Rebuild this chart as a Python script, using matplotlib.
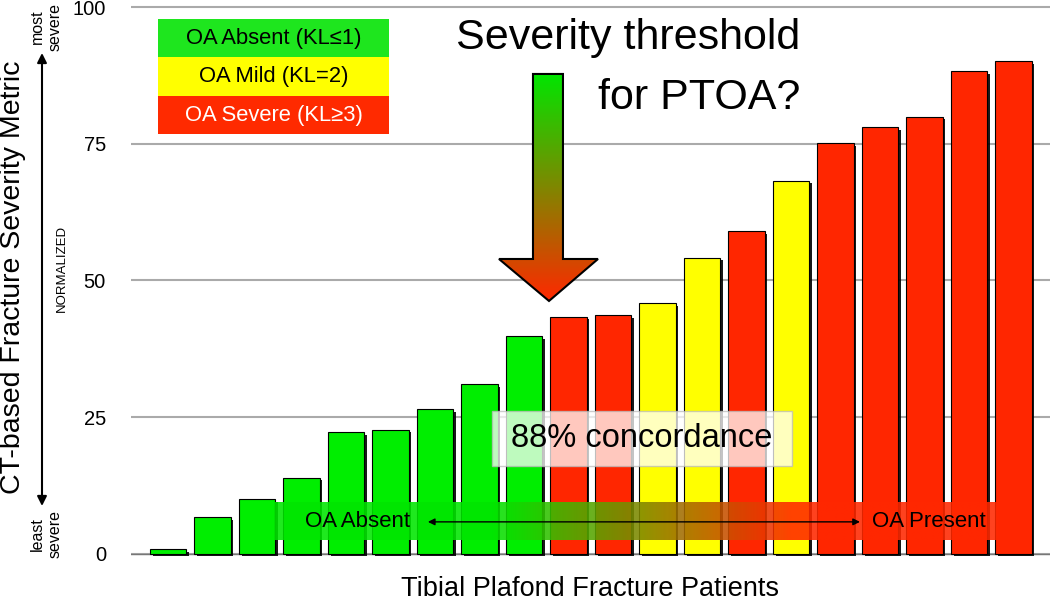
import numpy as np
import matplotlib.pyplot as plt
import matplotlib.patheffects as pe
from matplotlib.patches import Polygon, Rectangle
from matplotlib.colors import to_rgb

plt.rcParams['font.family'] = ['Liberation Sans', 'DejaVu Sans']

# severity metric per patient (sorted), and the OA grade of each one
values = [0.8, 6.7, 10.0, 13.9, 22.2, 22.7, 26.5, 31.0, 39.8, 43.4,
          43.7, 45.9, 54.2, 59.1, 68.3, 75.1, 78.1, 80.0, 88.4, 90.2]
grades = ['absent'] * 9 + ['severe', 'severe', 'mild', 'mild', 'severe',
                           'mild'] + ['severe'] * 5
yticks = [0, 25, 50, 75, 100]
legend_labels = ['OA Absent (KL≤1)', 'OA Mild (KL=2)', 'OA Severe (KL≥3)']
legend_grades = ['absent', 'mild', 'severe']

bar_colors = {'absent': '#00ee00', 'mild': '#ffff00', 'severe': '#ff2600'}
legend_colors = {'absent': '#1ee61e', 'mild': '#ffff00', 'severe': '#ff2a00'}
legend_text = {'absent': 'black', 'mild': 'black', 'severe': 'white'}
GREEN = np.array(to_rgb('#00e600'))
RED = np.array(to_rgb('#ff2800'))

fig = plt.figure(figsize=(10.5, 6.02), dpi=100)
ax = fig.add_axes([131 / 1050, 43 / 602, 919 / 1050, 557 / 602])

x = np.arange(len(values))
shadow = [pe.SimplePatchShadow(offset=(2, -2), shadow_rgbFace='black', alpha=0.9),
          pe.Normal()]
ax.bar(x, values, width=0.81, color=[bar_colors[g] for g in grades],
       edgecolor='black', linewidth=0.8, zorder=3, path_effects=shadow)

ax.set_yticks(yticks)
ax.yaxis.grid(True, color='#aaaaaa', linewidth=1.5, zorder=0)
ax.axhline(0, color='#777777', linewidth=1.0, zorder=1)
ax.set_axisbelow(True)
ax.set_xticks([])
ax.tick_params(axis='y', length=0, pad=18, labelsize=14.5)
for s in ax.spines.values():
    s.set_visible(False)

# gradient arrow pointing at the threshold
arrow_pts = [(8.202, 87.82), (8.876, 87.82), (8.876, 53.94), (9.663, 53.94),
             (8.562, 46.25), (7.438, 53.94), (8.202, 53.94)]
t = np.linspace(0, 1, 256)[:, None, None]
arrow_img = GREEN * (1 - t) + RED * t
im = ax.imshow(arrow_img, extent=(7.438, 9.663, 46.25, 87.82), origin='upper',
               aspect='auto', zorder=4, interpolation='bilinear')
arrow_poly = Polygon(arrow_pts, closed=True, facecolor='none', edgecolor='black',
                     linewidth=1.5, zorder=4.1)
ax.add_patch(arrow_poly)
im.set_clip_path(arrow_poly)

ax.text(14.2, 92.4, 'Severity threshold', ha='right', va='baseline', fontsize=31)
ax.text(14.2, 81.4, 'for PTOA?', ha='right', va='baseline', fontsize=31)

# horizontal band OA Absent <-> OA Present
bx0, bx1 = 2.40, 18.63
xs = np.linspace(bx0, bx1, 600)
f = np.clip((xs - 7.24) / (13.98 - 7.24), 0, 1)[None, :, None]
band_img = GREEN * (1 - f) + RED * f
ax.imshow(band_img, extent=(bx0, bx1, 2.47, 9.25), aspect='auto', alpha=0.88,
          zorder=5, interpolation='bilinear')
ax.text(4.25, 5.8, 'OA Absent', ha='center', va='center', fontsize=16, zorder=6)
ax.text(17.09, 5.8, 'OA Present', ha='center', va='center', fontsize=16, zorder=6)
ax.annotate('', xy=(15.55, 5.8), xytext=(5.84, 5.8),
            arrowprops=dict(arrowstyle='<|-|>', color='black', lw=1.0,
                            mutation_scale=10, shrinkA=0, shrinkB=0), zorder=6)

# concordance box
ax.add_patch(Rectangle((7.28, 16.0), 6.74, 10.1, facecolor='white', alpha=0.75,
                       edgecolor='#bbbbbb', linewidth=1.0, zorder=7))
ax.text(10.65, 21.0, '88% concordance', ha='center', va='center', fontsize=23.5, zorder=8)

# legend boxes
row_h = 7.05
for i, (lab, g) in enumerate(zip(legend_labels, legend_grades)):
    y0 = 97.9 - (i + 1) * row_h
    ax.add_patch(Rectangle((-0.22, y0), 5.19, row_h, facecolor=legend_colors[g],
                           edgecolor='none', zorder=8))
    ax.text(2.375, y0 + row_h / 2, lab, ha='center', va='center', fontsize=15.8,
            color=legend_text[g], zorder=9)

ax.set_xlim(-0.831, 19.82)
ax.set_ylim(-1, 101)

# left side annotations
fig.text(13 / 1050, 1 - 277 / 602, 'CT-based Fracture Severity Metric', rotation=90,
         ha='center', va='center', fontsize=20.5)
fig.text(62 / 1050, 1 - 268 / 602, 'NORMALIZED', rotation=90, ha='center',
         va='center', fontsize=9.5)
fig.text(46 / 1050, 1 - 27 / 602, 'most\nsevere', rotation=90, ha='center',
         va='center', fontsize=11.5, multialignment='center')
fig.text(46 / 1050, 1 - 534 / 602, 'least\nsevere', rotation=90, ha='center',
         va='center', fontsize=11.5, multialignment='center')
ax.annotate('', xy=(42 / 1050, 1 - 53 / 602), xytext=(42 / 1050, 1 - 506 / 602),
            xycoords='figure fraction', textcoords='figure fraction',
            arrowprops=dict(arrowstyle='<|-|>', color='black', lw=1.5,
                            mutation_scale=14, shrinkA=0, shrinkB=0),
            annotation_clip=False)
fig.text(590 / 1050, 1 - 589 / 602, 'Tibial Plafond Fracture Patients',
         ha='center', va='center', fontsize=19.5)

fig.savefig('out.png', dpi=100)
